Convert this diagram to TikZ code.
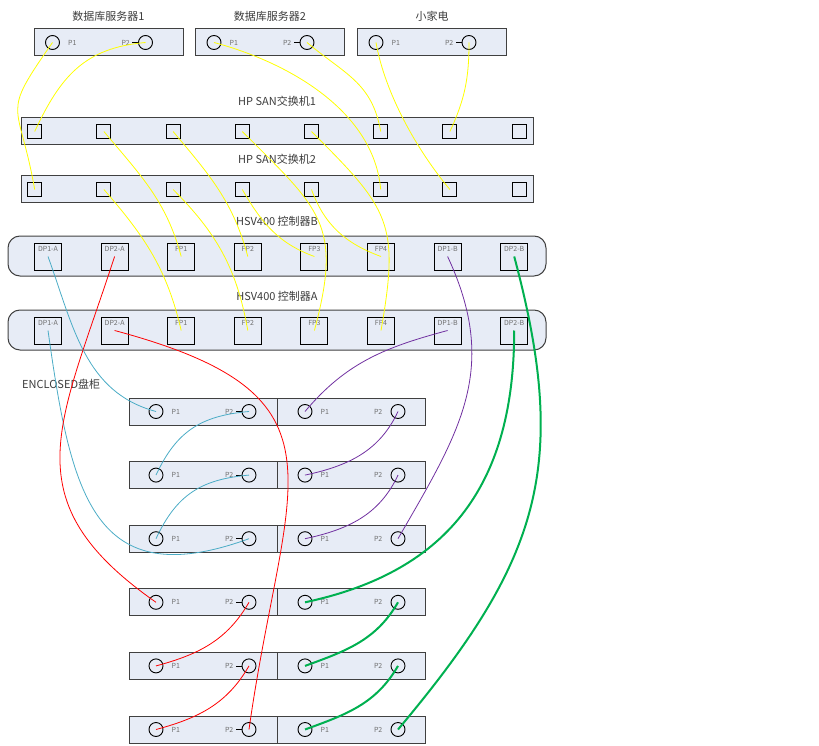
\documentclass[tikz,border=0pt]{standalone}
\usepackage{fontspec}
\newfontfamily\cjk{Noto Sans CJK SC}
\usetikzlibrary{positioning}
\definecolor{boxfill}{RGB}{231,236,246}
\definecolor{boxline}{RGB}{64,64,64}
\definecolor{txtdark}{RGB}{60,60,60}
\definecolor{txtgray}{RGB}{110,110,110}
\definecolor{wyellow}{RGB}{255,255,0}
\definecolor{wcyan}{RGB}{75,172,198}
\definecolor{wpurple}{RGB}{112,48,160}
\definecolor{wred}{RGB}{255,0,0}
\definecolor{wgreen}{RGB}{0,176,80}
\tikzset{
  srv/.style={rectangle,draw=boxline,line width=1pt,fill=boxfill,minimum width=149pt,minimum height=27pt},
  sw/.style={rectangle,draw=boxline,line width=1pt,fill=boxfill,minimum width=512pt,minimum height=27pt},
  ctl/.style={rectangle,rounded corners=12pt,draw=boxline,line width=1pt,fill=boxfill,minimum width=538pt,minimum height=40pt},
  enc/.style={rectangle,draw=boxline,line width=1pt,fill=boxfill,minimum width=148pt,minimum height=27pt},
  sq/.style={rectangle,draw=black,line width=0.9pt,minimum size=14pt,inner sep=0pt},
  cp/.style={rectangle,draw=black,line width=0.9pt,minimum size=27pt,inner sep=0pt},
  prt/.style={circle,draw=black,line width=0.9pt,minimum size=14pt,inner sep=0pt},
  plab/.style={font=\cjk\fontsize{7}{8}\selectfont,text=txtgray,inner sep=1pt},
  ttl/.style={font=\cjk\fontsize{11}{13}\selectfont,text=txtdark,inner sep=2pt},
  tick/.style={draw=black,line width=0.8pt},
  yl/.style={draw=wyellow,line width=0.8pt},
  cy/.style={draw=wcyan,line width=0.8pt},
  pu/.style={draw=wpurple,line width=0.8pt},
  rd/.style={draw=wred,line width=0.8pt},
  gr/.style={draw=wgreen,line width=2pt},
}
\begin{document}
\begin{tikzpicture}[x=1pt,y=1pt]
  \useasboundingbox (0,0) rectangle (819,-746);
  % servers
  \foreach \i/\cx/\name in {1/108.5/数据库服务器1,2/270/数据库服务器2,3/432/小家电}{
    \node[srv] (srv\i) at (\cx,-42.5) {};
    \node[ttl,above=5pt of srv\i] (srv\i-t) {\name};
    \node[prt,label={[plab,label distance=7pt]right:P1}] (s\i-p1) at ({\cx-56},-42.5) {};
    \node[prt,label={[plab,label distance=7pt]left:P2}] (s\i-p2) at ({\cx+37},-42.5) {};
    \draw[tick] (s\i-p2.west) -- ++(-6,0);
  }
  % switches
  \node[sw] (sw1) at (277,-131.5) {};
  \node[ttl,above=9pt of sw1] (sw1-t) {HP SAN交换机1};
  \node[sw] (sw2) at (277,-189.5) {};
  \node[ttl,above=9pt of sw2] (sw2-t) {HP SAN交换机2};
  \foreach \k in {1,...,8}{
    \node[sq] (sw1-\k) at ({34.7+69.2*(\k-1)},-131.5) {};
    \node[sq] (sw2-\k) at ({34.7+69.2*(\k-1)},-189.5) {};
  }
  % controllers
  \node[ctl] (ctlb) at (277,-256) {};
  \node[ttl,above=7pt of ctlb] (ctlb-t) {HSV400 控制器B};
  \node[ctl] (ctla) at (277,-330) {};
  \node[ttl,above=6pt of ctla] (ctla-t) {HSV400 控制器A};
  \foreach \lab [count=\k] in {DP1-A,DP2-A,FP1,FP2,FP3,FP4,DP1-B,DP2-B}{
    \node[cp,label={[plab,anchor=north,yshift=-3pt]north:\lab}] (cb-\k) at ({48+66.6*(\k-1)},-256.5) {};
    \node[cp,label={[plab,anchor=north,yshift=-3pt]north:\lab}] (ca-\k) at ({48+66.6*(\k-1)},-330.5) {};
  }
  % enclosures
  \node[ttl,anchor=west] (enc-t) at (20,-384) {ENCLOSED盘柜};
  \foreach \r in {1,...,6}{
    \pgfmathsetmacro{\ey}{-411.5-63.6*(\r-1)}
    \node[enc] (enc\r-l) at (203,\ey) {};
    \node[enc] (enc\r-r) at (351,\ey) {};
    \node[prt,label={[plab,label distance=7pt]right:P1}] (e\r-lp1) at (156,\ey) {};
    \node[prt,label={[plab,label distance=7pt]left:P2}] (e\r-lp2) at (249,\ey) {};
    \node[prt,label={[plab,label distance=7pt]right:P1}] (e\r-rp1) at (305,\ey) {};
    \node[prt,label={[plab,label distance=7pt]left:P2}] (e\r-rp2) at (398,\ey) {};
    \draw[tick] (e\r-lp2.west) -- ++(-6,0);
  }
  % fibre to switches
  \draw[yl] (s1-p1.center) to[out=235,in=100,looseness=1.6] (sw2-1.center);
  \draw[yl] (s1-p2.center) to[out=185,in=65,looseness=1.1] (sw1-1.center);
  \draw[yl] (s2-p1.center) to[out=-15,in=95,looseness=0.9] (sw2-6.center);
  \draw[yl] (s2-p2.center) to[out=-40,in=100,looseness=1.1] (sw1-6.center);
  \draw[yl] (s3-p1.center) to[out=-80,in=130,looseness=0.8] (sw2-7.center);
  \draw[yl] (s3-p2.center) to[out=-90,in=65] (sw1-7.center);
  % switches to controllers
  \draw[yl] (sw1-2.center) to[out=-50,in=105] (cb-3.center);
  \draw[yl] (sw1-3.center) to[out=-50,in=105] (cb-4.center);
  \draw[yl] (sw1-4.center) to[out=-45,in=75,looseness=1.33] (ca-5.center);
  \draw[yl] (sw1-5.center) to[out=-45,in=80,looseness=1.33] (ca-6.center);
  \draw[yl] (sw2-2.center) to[out=-49,in=103] (ca-3.center);
  \draw[yl] (sw2-3.center) to[out=-45,in=100] (ca-4.center);
  \draw[yl] (sw2-4.center) to[out=-60,in=160] (cb-5.center);
  \draw[yl] (sw2-5.center) to[out=-70,in=160] (cb-6.center);
  % loop DP1-A
  \draw[cy] (cb-1.center) to[out=-70,in=165] (e1-lp1.center);
  \draw[cy] (ca-1.center) to[out=-82,in=200,looseness=1.46] (e3-lp2.center);
  \draw[cy] (e1-lp2.center) to[out=185,in=65,looseness=1.1] (e2-lp1.center);
  \draw[cy] (e2-lp2.center) to[out=185,in=65,looseness=1.1] (e3-lp1.center);
  % loop DP1-B
  \draw[pu] (cb-7.center) to[out=-65,in=60,looseness=1.11] (e3-rp2.center);
  \draw[pu] (ca-7.center) to[out=195,in=50] (e1-rp1.center);
  \draw[pu] (e1-rp2.center) to[out=245,in=12] (e2-rp1.center);
  \draw[pu] (e2-rp2.center) to[out=245,in=12] (e3-rp1.center);
  % loop DP2-A
  \draw[rd] (cb-2.center) to[out=252,in=145,looseness=1.31] (e4-lp1.center);
  \draw[rd] (ca-2.center) to[out=-15,in=82,looseness=1.54] (e6-lp2.center);
  \draw[rd] (e4-lp2.center) to[out=240,in=15] (e5-lp1.center);
  \draw[rd] (e5-lp2.center) to[out=240,in=15] (e6-lp1.center);
  % loop DP2-B
  \draw[gr] (cb-8.center) to[out=-75,in=50,looseness=1.15] (e6-rp2.center);
  \draw[gr] (ca-8.center) to[out=-90,in=12,looseness=1.12] (e4-rp1.center);
  \draw[gr] (e4-rp2.center) to[out=240,in=20] (e5-rp1.center);
  \draw[gr] (e5-rp2.center) to[out=240,in=20] (e6-rp1.center);
\end{tikzpicture}
\end{document}
